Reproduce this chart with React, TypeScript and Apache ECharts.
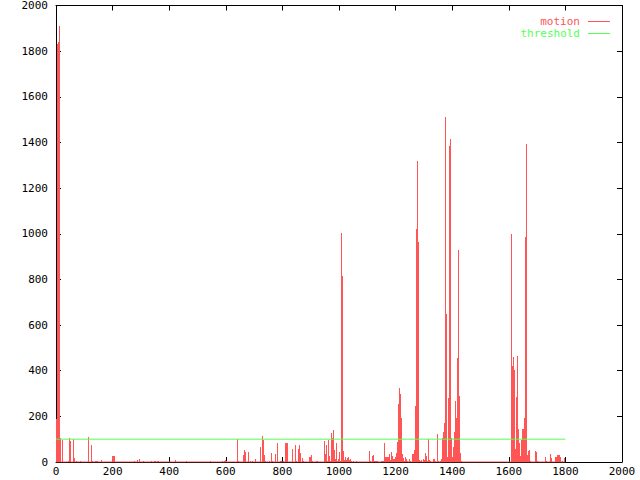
import { useEffect, useRef } from "react";
import * as echarts from "echarts";

// motion values: [frame, value]; frames not listed are 0
const motion: [number, number][] = [
  [0, 190], [4, 1830], [7, 1840], [11, 1910], [14, 105], [21, 96], [42, 5], [46, 106], [49, 93],
  [60, 100], [64, 17], [71, 5], [85, 5], [113, 111], [124, 74], [127, 5], [138, 5], [141, 5], [145, 5],
  [159, 8], [198, 26], [201, 26], [205, 26], [276, 5], [286, 8], [293, 13], [307, 5], [336, 5], [346, 5],
  [350, 5], [357, 5], [361, 5], [421, 8], [459, 5], [544, 5], [587, 5], [594, 5], [597, 10], [601, 5],
  [640, 100], [643, 5], [661, 30], [664, 52], [668, 45], [679, 42], [686, 5], [693, 5], [703, 13],
  [721, 67], [728, 115], [731, 96], [735, 30], [738, 5], [753, 5], [760, 39], [763, 5], [774, 35],
  [781, 85], [792, 5], [795, 5], [802, 5], [809, 85], [813, 85], [816, 85], [834, 57], [845, 74],
  [848, 5], [855, 57], [859, 74], [862, 39], [869, 17], [873, 5], [894, 22], [898, 22], [901, 30],
  [905, 5], [919, 5], [923, 5], [947, 92], [951, 35], [954, 74], [958, 5], [961, 96], [965, 26],
  [968, 5], [972, 127], [975, 105], [979, 140], [982, 52], [986, 13], [990, 83], [993, 5], [997, 13],
  [1000, 45], [1004, 5], [1007, 1002], [1011, 814], [1014, 49], [1018, 8], [1021, 22], [1025, 8],
  [1028, 17], [1032, 22], [1035, 8], [1039, 13], [1042, 5], [1050, 5], [1060, 5], [1106, 49],
  [1110, 5], [1117, 26], [1120, 30], [1124, 5], [1127, 5], [1131, 5], [1134, 5], [1149, 5], [1152, 5],
  [1156, 5], [1159, 85], [1163, 22], [1166, 22], [1170, 22], [1173, 22], [1177, 35], [1180, 8],
  [1184, 44], [1187, 26], [1191, 13], [1194, 13], [1198, 22], [1202, 39], [1205, 88], [1209, 254],
  [1212, 324], [1216, 298], [1219, 193], [1223, 35], [1226, 17], [1230, 5], [1233, 22], [1237, 13],
  [1240, 5], [1247, 13], [1251, 5], [1258, 35], [1262, 35], [1265, 52], [1269, 245], [1272, 1020],
  [1276, 1317], [1279, 963], [1283, 8], [1286, 5], [1290, 8], [1297, 13], [1301, 8], [1304, 39],
  [1308, 26], [1311, 5], [1315, 100], [1318, 8], [1322, 5], [1332, 13], [1336, 13], [1339, 5],
  [1346, 122], [1350, 5], [1357, 5], [1361, 13], [1364, 105], [1368, 131], [1371, 172], [1375, 1510],
  [1378, 648], [1382, 22], [1385, 280], [1389, 1383], [1392, 1413], [1396, 106], [1399, 22],
  [1403, 67], [1406, 133], [1410, 268], [1413, 194], [1417, 455], [1420, 928], [1424, 289],
  [1428, 39], [1431, 5], [1608, 998], [1611, 420], [1615, 459], [1619, 403], [1622, 58], [1626, 286],
  [1629, 464], [1633, 144], [1636, 83], [1640, 26], [1643, 96], [1647, 146], [1650, 146], [1654, 192],
  [1657, 986], [1661, 1392], [1664, 30], [1668, 49], [1672, 52], [1675, 5], [1693, 49], [1696, 44],
  [1700, 5], [1728, 22], [1732, 5], [1746, 35], [1749, 17], [1763, 22], [1767, 22], [1770, 30],
  [1774, 30], [1777, 30], [1781, 22], [1788, 5], [1795, 17],
];

const frameRange = [0, 1800];
const thresholdValue = 100;
const xRange = [0, 2000];
const yRange = [0, 2000];
const tickStep = 200;

const RED = "#ff5555";
const GREEN = "#55ff55";
const FONT = "DejaVu Sans Mono";

export default function App() {
  const ref = useRef<HTMLDivElement>(null);
  useEffect(() => {
    if (!ref.current) return;
    const chart = echarts.init(ref.current, undefined, { renderer: "svg" });
    const axisCommon = {
      type: "value" as const,
      interval: tickStep,
      axisLine: { show: true, onZero: false, lineStyle: { color: "#000", width: 1 } },
      axisTick: { show: true, inside: true, length: 5, lineStyle: { color: "#000" } },
      splitLine: { show: false },
    };
    const label = {
      color: "#000",
      fontFamily: FONT,
      fontSize: 11,
      formatter: (v: number) => String(v),
    };
    chart.setOption({
      animation: false,
      backgroundColor: "#fff",
      grid: { left: 56, right: 18, top: 5, bottom: 18 },
      legend: {
        orient: "vertical",
        align: "right",
        right: 30,
        top: 16,
        padding: 0,
        itemWidth: 22,
        itemHeight: 1,
        itemGap: 1,
        selectedMode: false,
        textStyle: { fontFamily: FONT, fontSize: 11, lineHeight: 10, padding: [0, 3, 0, 0] },
        data: [
          { name: "motion", icon: "rect", itemStyle: { color: RED }, textStyle: { color: RED } },
          { name: "threshold", icon: "rect", itemStyle: { color: GREEN }, textStyle: { color: GREEN } },
        ],
      },
      xAxis: [
        {
          ...axisCommon,
          min: xRange[0],
          max: xRange[1],
          position: "bottom",
          axisLabel: { ...label, margin: 4 },
        },
        {
          ...axisCommon,
          min: xRange[0],
          max: xRange[1],
          position: "top",
          axisLabel: { show: false },
        },
      ],
      yAxis: [
        {
          ...axisCommon,
          min: yRange[0],
          max: yRange[1],
          position: "left",
          axisLabel: { ...label, margin: 8 },
        },
        {
          ...axisCommon,
          min: yRange[0],
          max: yRange[1],
          position: "right",
          axisLabel: { show: false },
        },
      ],
      series: [
        {
          name: "motion bars",
          type: "custom",
          data: motion,
          encode: { x: 0, y: 1 },
          itemStyle: { color: RED },
          z: 3,
          renderItem: (_params: any, api: any) => {
            const top = api.coord([api.value(0), api.value(1)]);
            const base = api.coord([api.value(0), 0]);
            const x = Math.round(top[0]);
            const y = Math.round(top[1]);
            const b = Math.round(base[1]);
            return {
              type: "rect",
              shape: { x, y, width: 1, height: b - y },
              style: { fill: RED },
            };
          },
        },
        {
          name: "motion",
          type: "line",
          data: [
            [frameRange[0], 0],
            [frameRange[1], 0],
          ],
          symbol: "none",
          itemStyle: { color: RED },
          lineStyle: { color: RED, width: 1 },
          z: 4,
          silent: true,
        },
        {
          name: "threshold",
          type: "line",
          data: [
            [frameRange[0], thresholdValue],
            [frameRange[1], thresholdValue],
          ],
          symbol: "none",
          itemStyle: { color: GREEN },
          lineStyle: { color: GREEN, width: 1 },
          z: 5,
        },
      ],
    });
    return () => chart.dispose();
  }, []);
  return (
    <div
      ref={ref}
      style={{ position: "fixed", left: 0, top: 0, width: 640, height: 480 }}
    />
  );
}
